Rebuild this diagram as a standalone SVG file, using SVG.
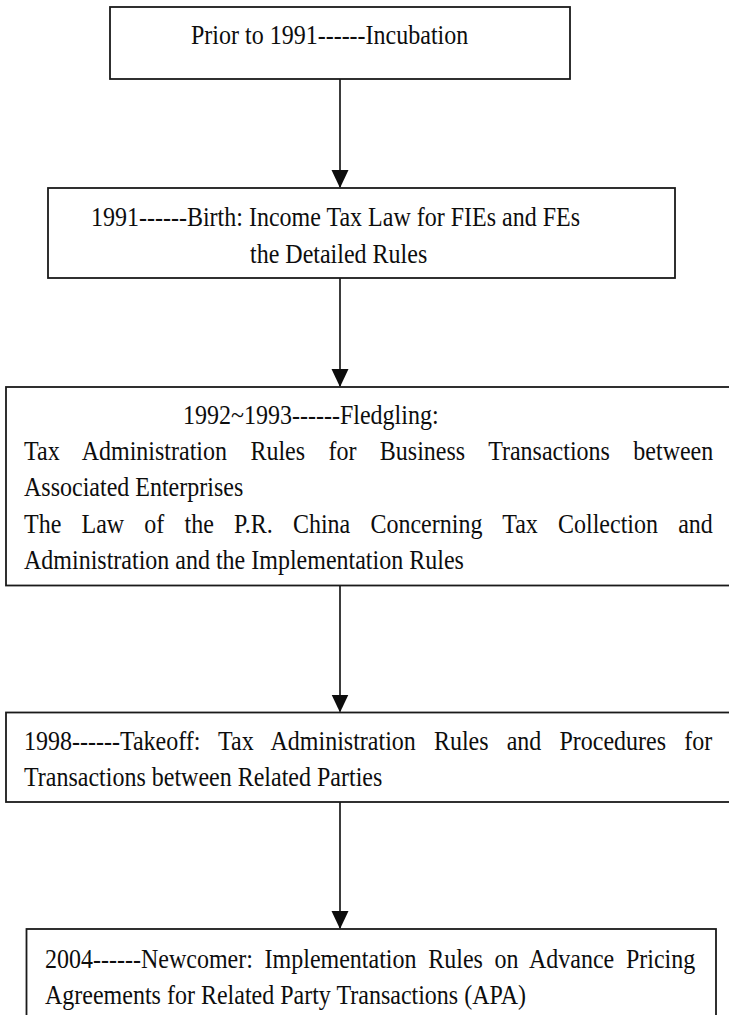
<svg xmlns="http://www.w3.org/2000/svg" width="729" height="1015" viewBox="0 0 729 1015">
  <style>
    .box { fill: #ffffff; stroke: #1a1a1a; stroke-width: 1.8; }
    .t { font-family: "Liberation Serif", "Times New Roman", serif; font-size: 24px; fill: #0d0d0d; }
    .conn { stroke: #1a1a1a; stroke-width: 1.7; fill: none; }
  </style>
  <defs>
    <marker id="arrow" viewBox="0 0 18 18" refX="17" refY="9" markerWidth="18" markerHeight="18" markerUnits="userSpaceOnUse" orient="auto">
      <path d="M0,0.5 L18,9 L0,17.5 Z" fill="#0d0d0d"/>
    </marker>
  </defs>
  <rect x="0" y="0" width="729" height="1015" fill="#ffffff"/>

  <g id="connectors">
    <line class="conn" x1="340" y1="79" x2="340" y2="187" marker-end="url(#arrow)"/>
    <line class="conn" x1="340" y1="278" x2="340" y2="386" marker-end="url(#arrow)"/>
    <line class="conn" x1="340" y1="585.5" x2="340" y2="711.5" marker-end="url(#arrow)"/>
    <line class="conn" x1="340" y1="802" x2="340" y2="928" marker-end="url(#arrow)"/>
  </g>

  <g id="node-incubation">
    <rect class="box" x="110" y="7" width="460" height="72"/>
    <text class="t" transform="translate(191 43.5) scale(1 1.15)">Prior to 1991------Incubation</text>
  </g>

  <g id="node-birth">
    <rect class="box" x="48" y="188" width="627" height="90"/>
    <text class="t" transform="translate(91 225.5) scale(1 1.15)">1991------Birth: Income Tax Law for FIEs and FEs</text>
    <text class="t" transform="translate(250 262.5) scale(1 1.15)">the Detailed Rules</text>
  </g>

  <g id="node-fledgling">
    <rect class="box" x="6" y="387" width="740" height="198.5"/>
    <text class="t" transform="translate(183 423.5) scale(1 1.15)">1992~1993------Fledgling:</text>
    <text class="t" transform="translate(24 460) scale(1 1.15)" word-spacing="17.4">Tax Administration Rules for Business Transactions between</text>
    <text class="t" transform="translate(24 496) scale(1 1.15)">Associated Enterprises</text>
    <text class="t" transform="translate(24 532.5) scale(1 1.15)" word-spacing="14.2">The Law of the P.R. China Concerning Tax Collection and</text>
    <text class="t" transform="translate(24 568.5) scale(1 1.15)">Administration and the Implementation Rules</text>
  </g>

  <g id="node-takeoff">
    <rect class="box" x="6" y="712.5" width="740" height="89.5"/>
    <text class="t" transform="translate(24 749.5) scale(1 1.15)" word-spacing="12.1">1998------Takeoff: Tax Administration Rules and Procedures for</text>
    <text class="t" transform="translate(24 785.5) scale(1 1.15)">Transactions between Related Parties</text>
  </g>

  <g id="node-newcomer">
    <rect class="box" x="26.5" y="929" width="689.5" height="100"/>
    <text class="t" transform="translate(45 967.5) scale(1 1.15)" word-spacing="5.7">2004------Newcomer: Implementation Rules on Advance Pricing</text>
    <text class="t" transform="translate(45 1003.5) scale(1 1.15)">Agreements for Related Party Transactions (APA)</text>
  </g>
</svg>
